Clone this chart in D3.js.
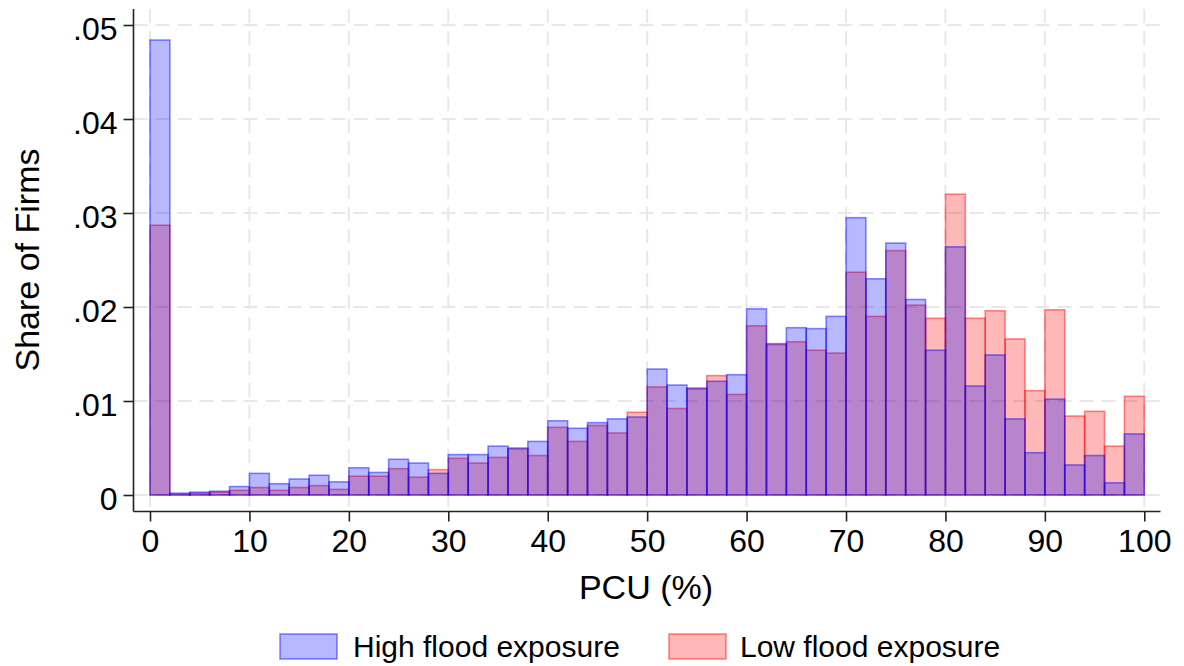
<!DOCTYPE html>
<html>
<head>
<meta charset="utf-8">
<script src="https://cdn.jsdelivr.net/npm/d3@7"></script>
<style>
  html, body { margin: 0; padding: 0; background: #fff; }
  svg { display: block; font-family: "Liberation Sans", Arial, Helvetica, sans-serif; }
</style>
</head>
<body>
<svg id="chart" width="1184" height="666"></svg>
<script>
// Histogram of plant capacity utilisation (PCU), 2-point bins from 0 to 100
const binStarts = d3.range(0, 100, 2);

// Share of firms per bin, high flood exposure group
const highExposure = [
  0.0484, 0.0002, 0.0003, 0.0004, 0.0009, 0.0023, 0.0012, 0.0017, 0.0021, 0.0014,
  0.0029, 0.0024, 0.0038, 0.0034, 0.0023, 0.0043, 0.0043, 0.0052, 0.0050, 0.0057,
  0.0079, 0.0071, 0.0077, 0.0081, 0.0083, 0.0134, 0.0117, 0.0113, 0.0121, 0.0128,
  0.0198, 0.0161, 0.0178, 0.0177, 0.0190, 0.0295, 0.0230, 0.0268, 0.0208, 0.0154,
  0.0264, 0.0116, 0.0149, 0.0081, 0.0045, 0.0102, 0.0032, 0.0042, 0.0013, 0.0065
];

// Share of firms per bin, low flood exposure group
const lowExposure = [
  0.0287, 0.0001, 0.0002, 0.0003, 0.0005, 0.0008, 0.0005, 0.0008, 0.0010, 0.0006,
  0.0020, 0.0020, 0.0028, 0.0019, 0.0027, 0.0039, 0.0034, 0.0040, 0.0049, 0.0042,
  0.0072, 0.0057, 0.0074, 0.0066, 0.0088, 0.0115, 0.0092, 0.0114, 0.0127, 0.0107,
  0.0180, 0.0160, 0.0163, 0.0154, 0.0151, 0.0237, 0.0190, 0.0260, 0.0202, 0.0188,
  0.0320, 0.0188, 0.0196, 0.0166, 0.0111, 0.0197, 0.0084, 0.0089, 0.0052, 0.0105
];

const binWidth = 2;
const xTicks = d3.range(0, 101, 10);
const yTicks = [0, 0.01, 0.02, 0.03, 0.04, 0.05];
const yTickLabels = ["0", ".01", ".02", ".03", ".04", ".05"];
const seriesNames = ["High flood exposure", "Low flood exposure"];

const svg = d3.select("#chart");

const plot = { left: 133.5, right: 1160.5, top: 9, bottom: 511.5 };
const x = d3.scaleLinear().domain([0, 100]).range([150, 1144.3]);
const y = d3.scaleLinear().domain([0, 0.05]).range([495, 25]);

// Dashed grid
const grid = svg.append("g")
  .attr("stroke", "#e8e8e8")
  .attr("stroke-width", 2)
  .attr("stroke-dasharray", "14,8")
  .attr("fill", "none");
grid.selectAll("line.h").data(yTicks).join("line")
  .attr("class", "h")
  .attr("x1", plot.left).attr("x2", plot.right)
  .attr("y1", d => y(d)).attr("y2", d => y(d));
grid.selectAll("line.v").data(xTicks).join("line")
  .attr("class", "v")
  .attr("x1", d => x(d)).attr("x2", d => x(d))
  .attr("y1", plot.top).attr("y2", plot.bottom);

// Overlaid histograms
const series = [
  { values: lowExposure,  fill: "rgba(255,0,0,0.28)", stroke: "rgba(255,0,0,0.45)" },
  { values: highExposure, fill: "rgba(0,0,255,0.28)", stroke: "rgba(0,0,255,0.45)" }
];
series.forEach(s => {
  svg.append("g").selectAll("rect")
    .data(binStarts.map((b, i) => ({ b, v: s.values[i] })))
    .join("rect")
    .attr("x", d => x(d.b))
    .attr("width", d => x(d.b + binWidth) - x(d.b))
    .attr("y", d => y(d.v))
    .attr("height", d => y(0) - y(d.v))
    .attr("fill", s.fill)
    .attr("stroke", s.stroke)
    .attr("stroke-width", 1.6);
});

// Y axis
const yAxis = svg.append("g").attr("transform", `translate(${plot.left},0)`)
  .call(d3.axisLeft(y).tickValues(yTicks).tickFormat((d, i) => yTickLabels[i]).tickSize(10).tickPadding(6));
yAxis.select(".domain").attr("d", `M0,${plot.top}V${plot.bottom}`).attr("stroke", "#222").attr("stroke-width", 1.6);
yAxis.selectAll(".tick line").attr("stroke", "#222").attr("stroke-width", 1.6);
yAxis.selectAll(".tick text")
  .attr("font-size", 32).attr("fill", "#000")
  .attr("font-family", "Liberation Sans, Arial, sans-serif")
  .attr("dy", "0.45em");

// X axis
const xAxis = svg.append("g").attr("transform", `translate(0,${plot.bottom})`)
  .call(d3.axisBottom(x).tickValues(xTicks).tickFormat(d3.format("d")).tickSize(10).tickPadding(8));
xAxis.select(".domain").attr("d", `M${plot.left},0H${plot.right}`).attr("stroke", "#222").attr("stroke-width", 1.6);
xAxis.selectAll(".tick line").attr("stroke", "#222").attr("stroke-width", 1.6);
xAxis.selectAll(".tick text")
  .attr("font-size", 32).attr("fill", "#000")
  .attr("font-family", "Liberation Sans, Arial, sans-serif");

// Axis titles
svg.append("text")
  .attr("x", 646).attr("y", 599)
  .attr("text-anchor", "middle")
  .attr("font-size", 34)
  .text("PCU (%)");

svg.append("text")
  .attr("transform", "translate(39,260) rotate(-90)")
  .attr("text-anchor", "middle")
  .attr("font-size", 34)
  .text("Share of Firms");

// Legend
const legend = svg.append("g");
const legendItems = [
  { name: seriesNames[0], fill: "rgba(0,0,255,0.28)", stroke: "rgba(0,0,255,0.45)", x: 280, tx: 353 },
  { name: seriesNames[1], fill: "rgba(255,0,0,0.28)", stroke: "rgba(255,0,0,0.45)", x: 669, tx: 740 }
];
legendItems.forEach(it => {
  legend.append("rect")
    .attr("x", it.x).attr("y", 634)
    .attr("width", 57).attr("height", 25)
    .attr("fill", it.fill).attr("stroke", it.stroke).attr("stroke-width", 1.6);
  legend.append("text")
    .attr("x", it.tx).attr("y", 657)
    .attr("font-size", 30)
    .text(it.name);
});
</script>
</body>
</html>
